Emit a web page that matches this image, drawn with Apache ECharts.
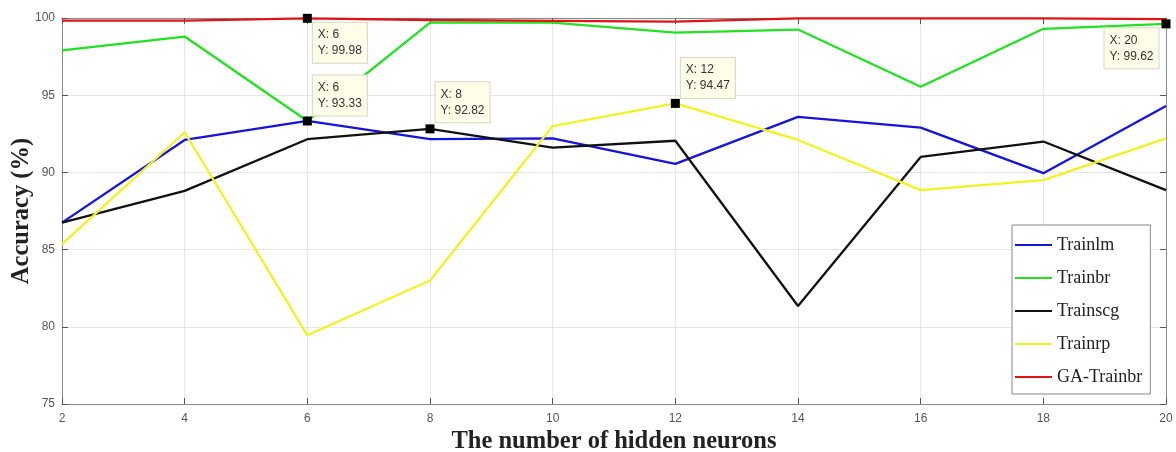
<!DOCTYPE html>
<html>
<head>
<meta charset="utf-8">
<script src="https://cdn.jsdelivr.net/npm/echarts@6/dist/echarts.min.js"></script>
<style>html,body{margin:0;padding:0;background:#fff;}#c{width:1176px;height:452px;}</style>
</head>
<body>
<div id="c"></div>
<script>
// ---- data ----
const xs = [2, 4, 6, 8, 10, 12, 14, 16, 18, 20];
const trainlm  = [86.75, 92.1, 93.33, 92.15, 92.2, 90.55, 93.6, 92.9, 89.95, 94.3];
const trainbr  = [97.9, 98.8, 93.33, 99.7, 99.7, 99.05, 99.25, 95.55, 99.3, 99.62];
const trainscg = [86.75, 88.8, 92.15, 92.82, 91.6, 92.05, 81.35, 91.0, 92.0, 88.85];
const trainrp  = [85.35, 92.6, 79.45, 83.0, 93.0, 94.47, 92.1, 88.85, 89.5, 92.2];
const gaTrainbr = [99.83, 99.83, 99.98, 99.87, 99.82, 99.76, 99.98, 99.98, 99.97, 99.93];
const seriesNames = ['Trainlm', 'Trainbr', 'Trainscg', 'Trainrp', 'GA-Trainbr'];
const yTicks = [75, 80, 85, 90, 95, 100];
const xTicks = [2, 4, 6, 8, 10, 12, 14, 16, 18, 20];
// data tips: [series index, point index]
const tips = [[4, 2], [1, 2], [2, 3], [3, 5], [1, 9]];

// ---- styling ----
const colors = ['#1414dc', '#22e022', '#111111', '#f2f222', '#e01414'];
const tipOffsets = [[10, 9], [10, -41], [10, -42], [10, -41], [-57, 9]];
const values = [trainlm, trainbr, trainscg, trainrp, gaTrainbr];

const series = values.map((arr, si) => {
  const mp = [];
  tips.forEach((t, ti) => {
    if (t[0] === si) {
      const xv = xs[t[1]], yv = arr[t[1]];
      mp.push({
        coord: [xv, yv],
        label: {
          show: true,
          position: tipOffsets[ti],
          formatter: 'X: ' + xv + '\nY: ' + yv.toFixed(2),
          backgroundColor: '#fdfde8',
          borderColor: '#d6d6c8',
          borderWidth: 1,
          padding: [4, 5, 4, 5],
          fontSize: 12,
          lineHeight: 16,
          color: '#333',
          fontFamily: 'Liberation Sans, Arial, sans-serif'
        }
      });
    }
  });
  return {
    name: seriesNames[si],
    type: 'line',
    data: xs.map((x, i) => [x, arr[i]]),
    symbol: 'none',
    lineStyle: { width: 2.3, color: colors[si] },
    itemStyle: { color: colors[si] },
    z: 2 + si,
    animation: false,
    markPoint: mp.length ? {
      symbol: 'rect',
      symbolSize: 9,
      itemStyle: { color: '#000' },
      data: mp,
      animation: false,
      z: 20
    } : undefined
  };
});

const axisCommon = {
  axisLine: { show: true, lineStyle: { color: '#8a8a8a', width: 1 } },
  axisTick: { show: true, inside: true, length: 6, lineStyle: { color: '#555' } },
};

const option = {
  backgroundColor: '#fff',
  animation: false,
  grid: { left: 62, right: 10, top: 18, bottom: 48, show: false, containLabel: false, outerBoundsMode: 'none' },
  legend: {
    orient: 'vertical',
    left: 1012,
    top: 225,
    data: seriesNames,
    icon: 'rect',
    itemWidth: 37,
    itemHeight: 2,
    itemGap: 13,
    padding: [10, 8, 7, 3],
    backgroundColor: '#fff',
    borderColor: '#888',
    borderWidth: 1,
    borderRadius: 0,
    textStyle: { fontFamily: 'Liberation Serif, Times New Roman, serif', fontSize: 18, color: '#222', lineHeight: 20 }
  },
  xAxis: [{
    type: 'value', min: xTicks[0], max: xTicks[xTicks.length - 1], interval: 2,
    position: 'bottom',
    name: 'The number of hidden neurons', nameLocation: 'middle', nameGap: 25, nameMoveOverlap: false,
    nameTextStyle: { fontFamily: 'Liberation Serif, Times New Roman, serif', fontWeight: 'bold', fontSize: 24.5, color: '#222' },
    axisLabel: { color: '#555', fontSize: 12, margin: 9, fontFamily: 'Liberation Sans, Arial, sans-serif' },
    splitLine: { show: true, lineStyle: { color: '#e6e6e6', width: 1 } },
    ...axisCommon
  }, {
    type: 'value', min: xTicks[0], max: xTicks[xTicks.length - 1], interval: 2,
    position: 'top',
    axisLabel: { show: false },
    splitLine: { show: false },
    ...axisCommon
  }],
  yAxis: [{
    type: 'value', min: yTicks[0], max: yTicks[yTicks.length - 1], interval: 5,
    position: 'left',
    name: 'Accuracy (%)', nameLocation: 'middle', nameGap: 28, nameRotate: 90, nameMoveOverlap: false,
    nameTextStyle: { fontFamily: 'Liberation Serif, Times New Roman, serif', fontWeight: 'bold', fontSize: 24.5, color: '#222' },
    axisLabel: { color: '#555', fontSize: 12, margin: 7, fontFamily: 'Liberation Sans, Arial, sans-serif' },
    splitLine: { show: true, lineStyle: { color: '#e6e6e6', width: 1 } },
    ...axisCommon
  }, {
    type: 'value', min: yTicks[0], max: yTicks[yTicks.length - 1], interval: 5,
    position: 'right',
    axisLabel: { show: false },
    splitLine: { show: false },
    ...axisCommon
  }],
  series: series
};

const chart = echarts.init(document.getElementById('c'), null, { renderer: 'canvas' });
chart.setOption(option);
</script>
</body>
</html>
